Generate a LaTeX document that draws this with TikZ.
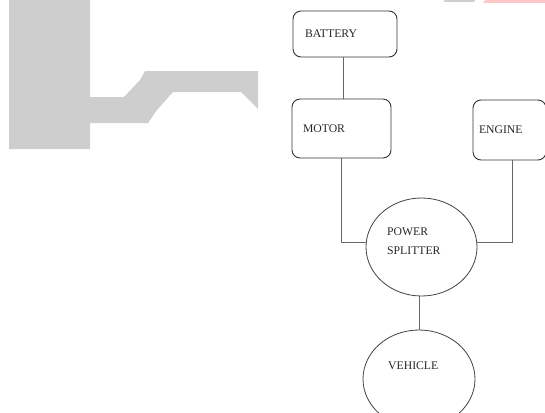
\documentclass[tikz,border=0pt]{standalone}
\usepackage{fontspec}
\setmainfont{Liberation Serif}
\usetikzlibrary{shapes.geometric}
\definecolor{logogray}{RGB}{206,206,206}
\definecolor{logopink}{RGB}{255,200,200}
\begin{document}
\begin{tikzpicture}[x=1pt,y=-1pt,
  txt/.style={font=\fontsize{11.7}{19}\selectfont, text=black!85},
  blockbox/.style={draw=black!80, line width=0.9pt, rounded corners=8pt, txt, align=left, inner ysep=0pt},
  oval/.style={ellipse, draw=black!75, line width=0.8pt, inner sep=0pt},
  wire/.style={draw=black!60, line width=0.7pt},
  lbl/.style={txt, anchor=west, align=left, inner sep=0pt}]
\useasboundingbox (0,0) rectangle (545,412);
% background logo fragments
\fill[logogray] (9,0) -- (90,0) -- (90,97) -- (124,97) -- (140,80) -- (145,71) -- (258,71) -- (258,109)
  -- (241,92) -- (173,92) -- (157,110) -- (148,123) -- (90,123) -- (90,149) -- (9,149) -- cycle;
\fill[logogray] (445,0) -- (475,0) -- (474,2) -- (443,2) -- cycle;
\fill[logopink] (485,0) -- (545,0) -- (545,3) -- (483,3) -- cycle;
% blocks
\node[blockbox, minimum width=104pt, minimum height=46pt, text width=80pt, inner xsep=12pt] (battery) at (345,34) {BATTERY};
\node[blockbox, minimum width=99pt, minimum height=59pt, text width=77pt, inner xsep=11pt] (motor) at (341.5,128.5) {MOTOR};
\node[blockbox, minimum width=73pt, minimum height=60pt, text width=61pt, inner xsep=6pt] (engine) at (509.5,130) {ENGINE};
\node[oval, minimum width=111pt, minimum height=98pt] (ps) at (421.5,247) {};
\node[lbl] (pslabel) at (387,241.5) {POWER\\SPLITTER};
\node[oval, minimum width=112pt, minimum height=98pt] (vehicle) at (419,379) {};
\node[lbl] (vlabel) at (388,366) {VEHICLE};
% connectors
\draw[wire] (battery.south -| motor.north) ++(1.5,0) coordinate (bs) -- (bs |- motor.north);
\draw[wire] (motor.south) |- (ps.175);
\draw[wire] ([xshift=2.5pt]engine.south) |- (ps.5);
\draw[wire] (vehicle.north |- ps.south) -- (vehicle.north);
\end{tikzpicture}
\end{document}
